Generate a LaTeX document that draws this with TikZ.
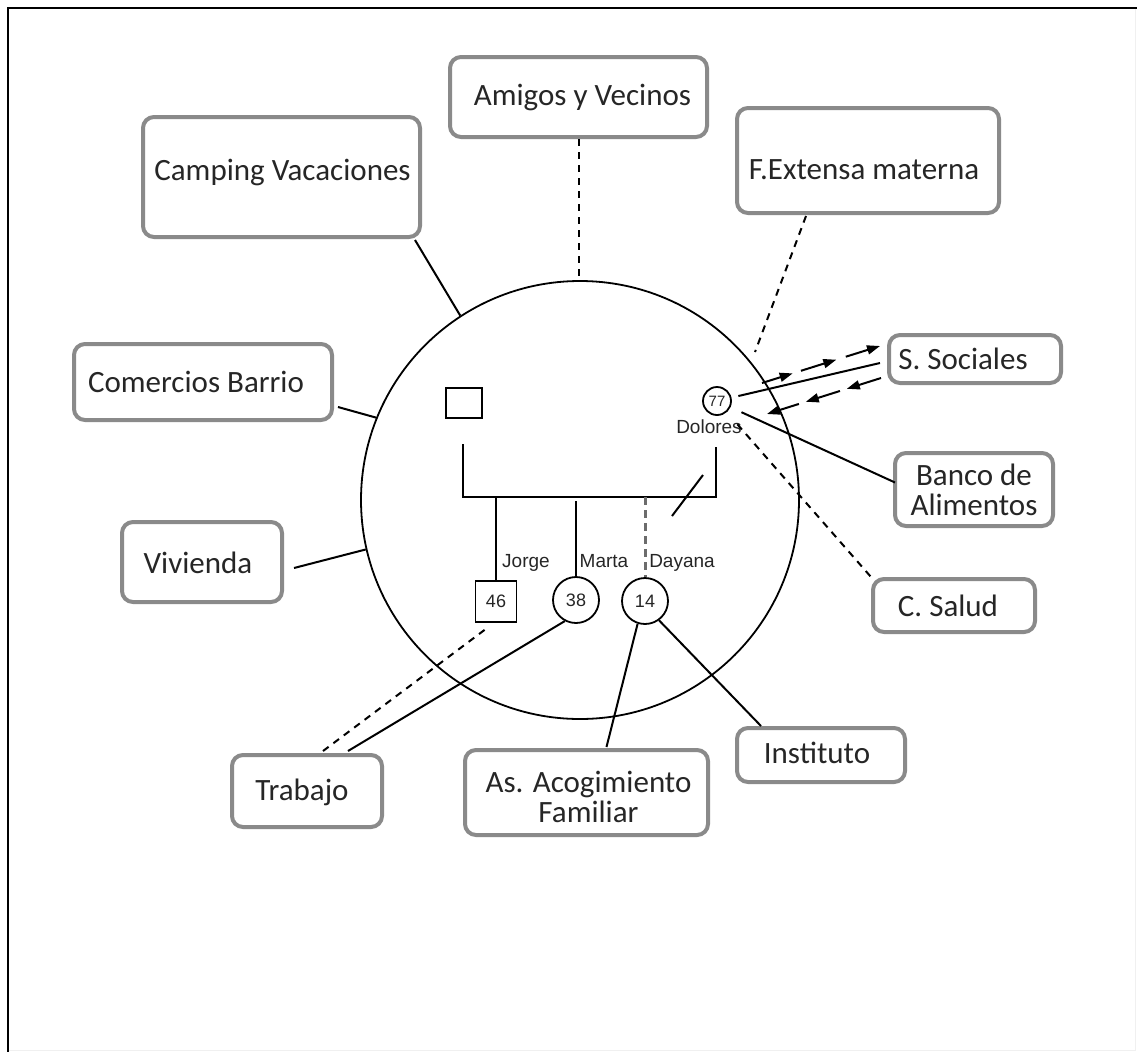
\documentclass[tikz,border=0pt]{standalone}
\usepackage{fontspec}
\setmainfont{Carlito}
\newfontfamily\arialf{Liberation Sans}
\usetikzlibrary{calc,arrows.meta}
\definecolor{boxgray}{HTML}{8A8A8A}
\definecolor{textdark}{HTML}{262626}
\begin{document}
\begin{tikzpicture}[x=1pt,y=-1pt,
  box/.style={draw=boxgray, line width=4pt, rounded corners=11pt, fill=white, inner sep=0pt},
  btxt/.style={font=\fontsize{31}{30}\selectfont, text=textdark, align=center, inner sep=0pt},
  link/.style={line width=2pt, black},
  brokenline/.style={line width=2pt, black, dash pattern=on 7pt off 6pt},
  person/.style={draw, line width=1.8pt, inner sep=0pt, fill=white, text=textdark,
                 font=\arialf\fontsize{18}{18}\selectfont},
  sqperson/.style={person, rectangle},
  ciperson/.style={person, circle},
  pname/.style={inner sep=0pt, anchor=base, text=textdark, font=\arialf\fontsize{19}{19}\selectfont},
  flow/.style={line width=2pt, black, -{Triangle[length=13pt,width=9pt]}}
]
\useasboundingbox (0,0) rectangle (1140,1055);

% page frame
\draw[gray!12, line width=1pt] (1135,8) -- (1135,1050) -- (8,1050);
\draw[black, line width=2pt] (7,8) -- (1137,8);
\draw[black, line width=2.5pt] (8,7) -- (8,1052);

% household circle
\node[circle, draw, line width=1.8pt, minimum size=438pt, inner sep=0pt] (fam) at (580,500) {};

% surrounding resources
\node[box, minimum width=257pt, minimum height=80pt,
      label={[btxt, shift={(4,0)}]center:Amigos y Vecinos}] (amigos) at (578.5,97) {};
\node[box, minimum width=277pt, minimum height=120pt,
      label={[btxt, shift={(1,-5)}]center:Camping Vacaciones}] (camping) at (281.5,177) {};
\node[box, minimum width=262pt, minimum height=105pt,
      label={[btxt, shift={(-4,9)}]center:F.Extensa materna}] (fext) at (868,160.5) {};
\node[box, minimum width=258pt, minimum height=76pt,
      label={[btxt, shift={(-7,0)}]center:Comercios Barrio}] (comer) at (203,382) {};
\node[box, minimum width=172pt, minimum height=48pt,
      label={[btxt, shift={(-12,0)}]center:S. Sociales}] (ssoc) at (975,359) {};
\node[box, minimum width=158pt, minimum height=73pt,
      label={[btxt]center:Banco de\\Alimentos}] (banco) at (974,489.5) {};
\node[box, minimum width=160pt, minimum height=80pt,
      label={[btxt, shift={(-4,1)}]center:Vivienda}] (viv) at (202,562) {};
\node[box, minimum width=162pt, minimum height=53pt,
      label={[btxt, shift={(-6,0)}]center:C. Salud}] (csalud) at (954,605.5) {};
\node[box, minimum width=150pt, minimum height=72pt,
      label={[btxt, shift={(-5,1)}]center:Trabajo}] (trabajo) at (307,791) {};
\node[box, minimum width=243pt, minimum height=85pt,
      label={[btxt, shift={(2,4)}]center:As. Acogimiento\\Familiar}] (acog) at (586.5,792.5) {};
\node[box, minimum width=168pt, minimum height=54pt,
      label={[btxt, shift={(-4,-2)}]center:Instituto}] (inst) at (821,755) {};

% genogram
\node[sqperson, minimum width=36pt, minimum height=30pt] (sqf) at (464,403) {};
\node[ciperson, minimum size=28pt, font=\arialf\fontsize{15}{15}\selectfont] (d77) at (717,401) {77};
\node[pname] (dol) at (709,433) {Dolores};
\node[sqperson, minimum size=41pt] (j46) at (496,601.5) {46};
\node[ciperson, minimum size=46pt] (m38) at (576,600) {38};
\node[ciperson, minimum size=46pt] (d14) at (645,601) {14};
\node[pname] (jorge) at (526,567) {Jorge};
\node[pname] (marta) at (604,567) {Marta};
\node[pname] (dayana) at (682,567) {Dayana};

\coordinate (lv) at (463,444);
\coordinate (hl) at (463,497);
\coordinate (hr) at (716,497);
\coordinate (rv) at (716,447);
\coordinate (slA) at (703,475);
\coordinate (slB) at (672,516);
\draw[link] (lv) -- (hl) -- (hr) -- (rv);
\draw[link] (slA) -- (slB);
\draw[link] (j46.north |- hl) -- (j46.north);
\draw[link] ($(m38.north |- hl)+(0,4)$) -- (m38.north);
\draw[line width=3pt, gray!85!black, dash pattern=on 8pt off 5pt] (d14.north |- hl) -- (d14.north);

% connectors to the environment
\draw[brokenline] (amigos.south) -- (amigos.south |- fam.north);
\draw[link] ($(camping.south east)+(-7,1)$) -- (fam.123.6);
\draw[link] ($(comer.east)+(4,25)$) -- (fam.158);
\draw[link] ($(viv.east)+(10,6)$) -- (fam.193);
\coordinate (fxe) at (755,352);
\draw[brokenline] ($(fext.south)+(-62,1)$) -- (fxe);
\coordinate (tje) at ($(j46.south west)+(10,7)$);
\draw[brokenline] ($(trabajo.north)+(16,-2)$) -- (tje);
\draw[link] ($(trabajo.north)+(41,-2)$) -- (m38.242);
\draw[link] ($(acog.north)+(20,-1)$) -- (d14.252);
\draw[link] ($(inst.north west)+(26,0)$) -- (d14.306);
\draw[link, shorten <=12pt] (d77) -- ($(banco.west)+(2,-7)$);
\draw[brokenline, shorten <=16pt] (d77) -- (csalud.north west);
\draw[link, shorten <=7pt] (d77) -- ($(ssoc.west)+(-7,4)$);

% two-way exchange with social services
\coordinate (upA) at ($(d77)+(45,-18)$);
\coordinate (upB) at ($(ssoc.west)+(-7,-13)$);
\coordinate (loA) at ($(ssoc.west)+(-6,19)$);
\coordinate (loB) at ($(d77)+(50,13)$);
\draw[flow] (upA) -- ($(upA)!0.26!(upB)$);
\draw[flow] ($(upA)!0.33!(upB)$) -- ($(upA)!0.63!(upB)$);
\draw[flow] ($(upA)!0.71!(upB)$) -- (upB);
\draw[flow] (loA) -- ($(loA)!0.30!(loB)$);
\draw[flow] ($(loA)!0.36!(loB)$) -- ($(loA)!0.66!(loB)$);
\draw[flow] ($(loA)!0.72!(loB)$) -- (loB);
\end{tikzpicture}
\end{document}
